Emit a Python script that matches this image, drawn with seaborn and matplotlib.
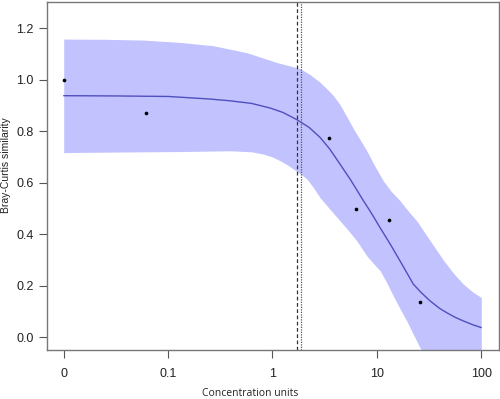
import matplotlib
matplotlib.use("Agg")
import matplotlib.pyplot as plt
import seaborn as sns
import numpy as np
from pandas import DataFrame

# observed points
obs_conc=[0.01,0.062,3.47,6.28,13.0,26.1]
obs_sim=[1.0,0.869,0.772,0.496,0.455,0.138]

# fitted curve (log10 of concentration)
fit_logx=[-2.0,-1.5,-1.0,-0.6,-0.405,-0.2,-0.022,0.1,0.233,0.35,0.456,0.55,0.647,0.75,0.871,0.95,1.031,1.13,1.222,1.28,1.349,1.42,1.509,1.6,1.669,1.75,1.828,1.92,2.0]
fit_sim=[0.938,0.937,0.935,0.925,0.918,0.908,0.890,0.873,0.845,0.815,0.776,0.730,0.672,0.610,0.530,0.480,0.425,0.360,0.296,0.255,0.206,0.175,0.141,0.112,0.095,0.077,0.063,0.048,0.037]

# confidence band
upper_logx=[-2.0,-1.6,-1.237,-0.883,-0.565,-0.245,0.042,0.265,0.36,0.456,0.52,0.584,0.647,0.71,0.775,0.84,0.903,0.98,1.062,1.14,1.222,1.30,1.382,1.51,1.636,1.73,1.828,1.91,2.0]
upper_sim=[1.158,1.157,1.154,1.145,1.132,1.105,1.067,1.043,1.020,0.990,0.965,0.938,0.903,0.858,0.810,0.767,0.724,0.665,0.607,0.565,0.530,0.490,0.452,0.375,0.300,0.250,0.206,0.178,0.154]
lower_logx=[-2.0,-1.5,-0.883,-0.405,-0.2,-0.086,0.0,0.074,0.14,0.201,0.265,0.329,0.39,0.456,0.55,0.647,0.73,0.808,0.903,0.97,1.031,1.09,1.158,1.22,1.286,1.35,1.413,1.6,2.0]
lower_sim=[0.717,0.719,0.721,0.724,0.720,0.711,0.700,0.685,0.670,0.653,0.635,0.615,0.582,0.542,0.497,0.452,0.413,0.374,0.316,0.285,0.258,0.215,0.160,0.112,0.063,0.010,-0.041,-0.15,-0.35]

ec50_dashed=1.71
ec50_dotted=1.88

xticks=[0.01,0.1,1,10,100]
xticklabels=["0","0.1","1","10","100"]
yticks=[0.0,0.2,0.4,0.6,0.8,1.0,1.2]

sns.set_style("white")
plt.rcParams['font.family']=['Liberation Sans','DejaVu Sans']

fig=plt.figure(figsize=(5,3.99),dpi=100)
ax=fig.add_axes([0.094,0.1228,0.904,0.8722])

band_x=np.union1d(upper_logx,lower_logx)
band_hi=np.interp(band_x,upper_logx,upper_sim)
band_lo=np.interp(band_x,lower_logx,lower_sim)
ax.fill_between(10**band_x,band_lo,band_hi,color="#c2c2ff",linewidth=0)

fit=DataFrame({"conc":10**np.array(fit_logx),"sim":fit_sim})
sns.lineplot(data=fit,x="conc",y="sim",color="#4f4fbf",linewidth=1,ax=ax)

pts=DataFrame({"conc":obs_conc,"sim":obs_sim})
sns.scatterplot(data=pts,x="conc",y="sim",color="black",s=7,linewidth=0,ax=ax)

ax.axvline(ec50_dashed,color="#333333",linestyle=(0,(3,2)),linewidth=0.9)
ax.axvline(ec50_dotted,color="#555555",linestyle=(0,(1,1)),linewidth=0.9)

ax.set_xscale("log")
ax.set_xlim(10**-2.16,10**2.17)
ax.set_ylim(-0.05,1.302)
ax.set_xticks(xticks)
ax.set_xticklabels(xticklabels)
ax.xaxis.set_minor_locator(matplotlib.ticker.NullLocator())
ax.set_yticks(yticks)
ax.set_yticklabels(["{:.1f}".format(v) for v in yticks])
ax.tick_params(axis="both",direction="out",length=6,width=0.8,color="#555555",labelsize=9,labelcolor="#222222",bottom=True,left=True)
ax.tick_params(axis="x",pad=7)
for s in ax.spines.values():
    s.set_color("#777777")
    s.set_linewidth(1)

ax.set_xlabel("")
ax.set_ylabel("")
fig.text(0.5,0.015,"Concentration units",ha="center",va="center",fontsize=7.5,family=['Open Sans','DejaVu Sans'],color="#222222")
fig.text(0.012,0.585,"Bray-Curtis similarity",rotation=90,ha="center",va="center",fontsize=7.5,color="#222222")

plt.savefig("out.png",dpi=100)
